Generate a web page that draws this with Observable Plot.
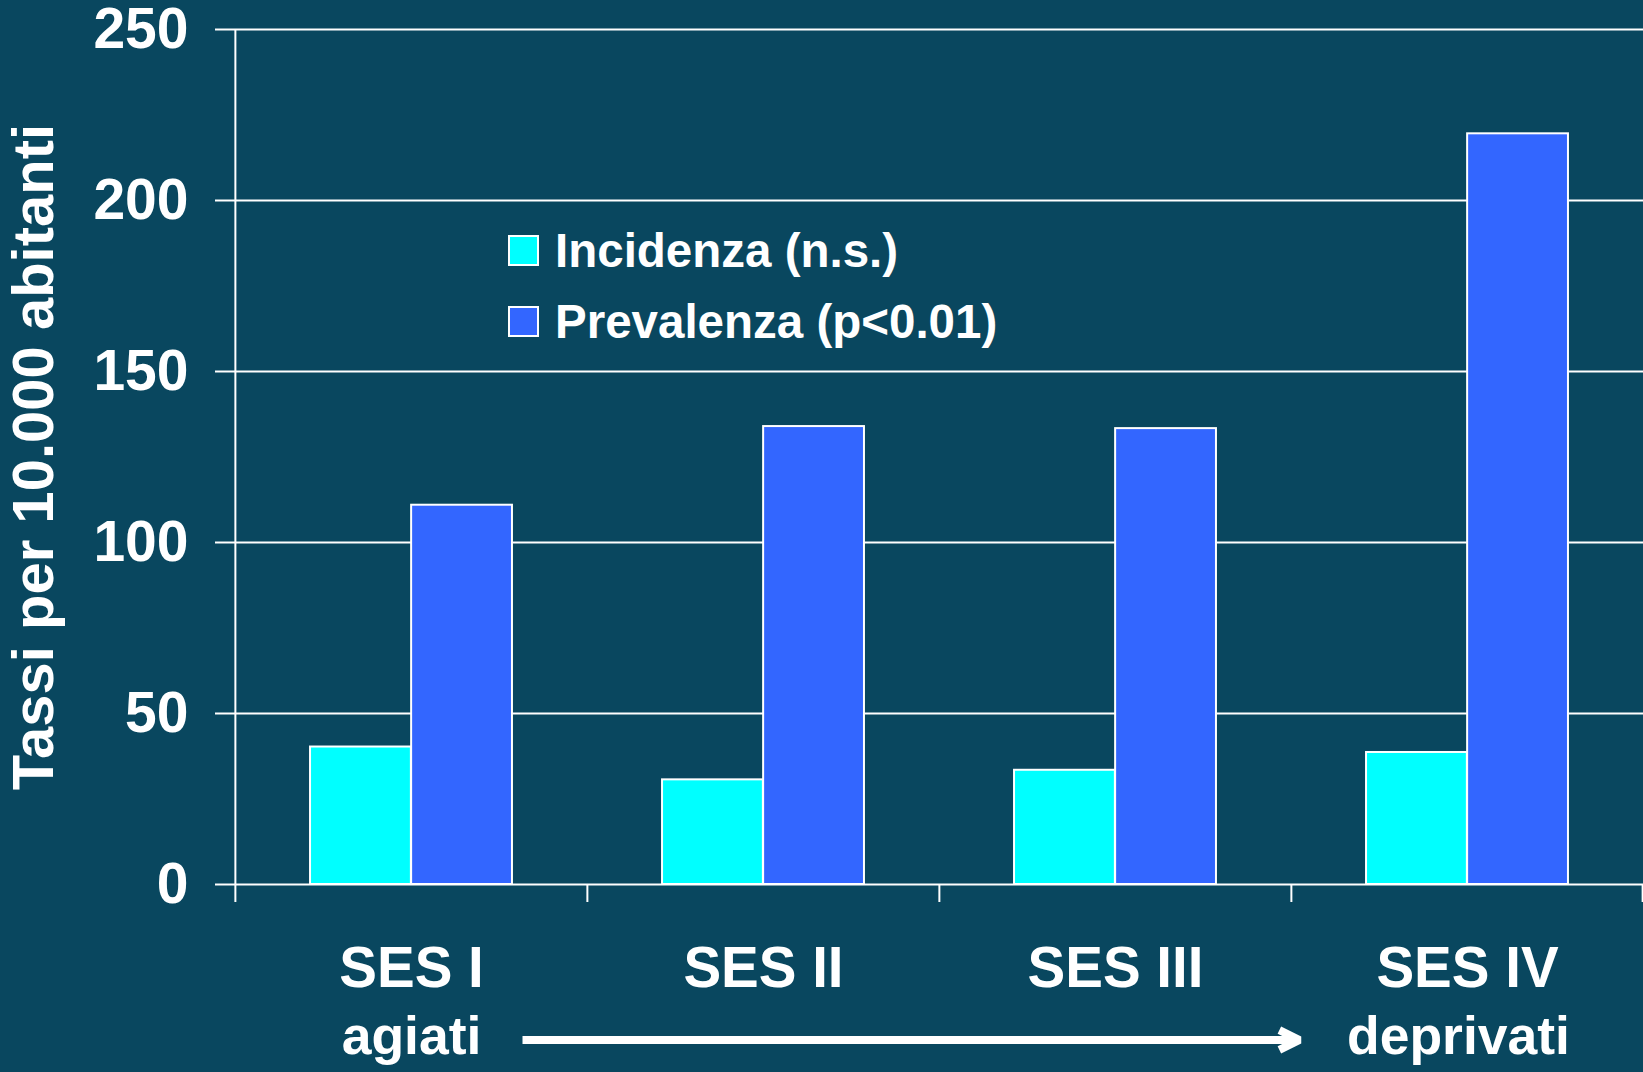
<!DOCTYPE html>
<html><head><meta charset="utf-8">
<script src="https://cdn.jsdelivr.net/npm/d3@7"></script>
<script src="https://cdn.jsdelivr.net/npm/@observablehq/plot@0.6"></script>
<style>
html,body{margin:0;padding:0;background:#09475F;}
#wrap{position:relative;width:1643px;height:1072px;overflow:hidden;font-family:"Liberation Sans",Arial,sans-serif;font-weight:bold;color:#fff;}
#legend{position:absolute;left:508px;top:215px;}
.row{display:flex;align-items:center;height:71px;}
.sw{width:31px;height:31px;box-sizing:border-box;border:2px solid #fff;margin-right:16px;}
.lt{font-size:47.5px;line-height:48px;white-space:nowrap;}
svg{display:block;}
</style></head><body><div id="wrap"><div id="legend"></div></div>
<script>
const categories = ["SES I", "SES II", "SES III", "SES IV"];
const subLabels = ["agiati", "", "", "deprivati"];
const series = ["Incidenza", "Prevalenza"];
const seriesLabels = ["Incidenza (n.s.)", "Prevalenza (p<0.01)"];
const seriesColors = ["#00FFFF", "#3366FF"];
const incidenza = [40.2, 30.6, 33.4, 38.6];
const prevalenza = [110.9, 133.9, 133.3, 219.5];
const yTicks = [0, 50, 100, 150, 200, 250];
const yLabel = "Tassi per 10.000 abitanti";

const W = 1643, H = 1072, ML = 234, MR = 0, MT = 29, MB = 188;
const bw = (W - ML - MR) / categories.length;
const barW = bw * 0.287;
const outer = (bw - 2 * barW) / 2;

const rows = categories.flatMap((c, i) => [
  {cat: c, series: series[0], value: incidenza[i]},
  {cat: c, series: series[1], value: prevalenza[i]}
]);
const subRows = categories.map((c, i) => ({cat: c, label: subLabels[i]}));
const lastCat = [categories[categories.length - 1]];

const font = '"Liberation Sans", Arial, sans-serif';

const chart = Plot.plot({
  width: W, height: H,
  marginLeft: ML, marginRight: MR, marginTop: MT, marginBottom: MB,
  style: {background: "transparent", color: "white", fontFamily: font, fontWeight: "bold", overflow: "visible"},
  x: {type: "band", domain: categories, padding: 0, axis: null},
  y: {domain: [0, 250], axis: null},
  color: {domain: series, range: seriesColors},
  marks: [
    Plot.ruleY(yTicks, {stroke: "white", strokeWidth: 2}),
    Plot.axisY({ticks: yTicks, tickSize: 19, tickPadding: 27, fontSize: 57, stroke: "white", strokeWidth: 2, label: null}),
    Plot.axisY({ticks: [], tickSize: 0, fontSize: 58, label: yLabel, labelAnchor: "center", labelOffset: 223, labelArrow: "none"}),
    Plot.barY(rows.filter(d => d.series === series[0]), {x: "cat", y: "value", fill: "series", stroke: "white", strokeWidth: 2,
      insetLeft: outer, insetRight: bw - outer - barW}),
    Plot.barY(rows.filter(d => d.series === series[1]), {x: "cat", y: "value", fill: "series", stroke: "white", strokeWidth: 2,
      insetLeft: outer + barW, insetRight: outer}),
    Plot.ruleX(categories.slice(0, 1), {x: d => d, y1: 0, y2: 250, dx: -bw / 2, stroke: "white", strokeWidth: 2}),
    Plot.ruleX(categories, {x: d => d, y1: 0, y2: 0, insetBottom: -18, dx: -bw / 2, stroke: "white", strokeWidth: 2}),
    Plot.ruleX(lastCat, {x: d => d, y1: 0, y2: 0, insetBottom: -18, dx: bw / 2 - 1, stroke: "white", strokeWidth: 2}),
    Plot.axisX({tickSize: 0, tickPadding: 62, fontSize: 56.5, label: null}),
    Plot.text(subRows.slice(0, 1), {x: "cat", text: "label", frameAnchor: "bottom", dy: 152, fontSize: 53.5, fill: "white", lineAnchor: "middle"}),
    Plot.text(subRows.slice(-1), {x: "cat", text: "label", frameAnchor: "bottom", dy: 152, dx: -9, fontSize: 53.5, fill: "white", lineAnchor: "middle"}),
    Plot.arrow([{from: categories[0], to: categories[categories.length - 1]}], {
      x1: "from", x2: "to", y1: 0, y2: 0, dy: 155.5, stroke: "white", strokeWidth: 8,
      headLength: 4.2, headAngle: 52, insetStart: 111, insetEnd: 168,
      strokeLinejoin: "miter", strokeLinecap: "butt"})
  ]
});
document.getElementById("wrap").prepend(chart);

const legend = document.getElementById("legend");
series.forEach((s, i) => {
  const row = document.createElement("div");
  row.className = "row";
  const sw = document.createElement("div");
  sw.className = "sw";
  sw.style.background = seriesColors[i];
  const t = document.createElement("div");
  t.className = "lt";
  t.textContent = seriesLabels[i];
  row.append(sw, t);
  legend.append(row);
});
</script></body></html>
